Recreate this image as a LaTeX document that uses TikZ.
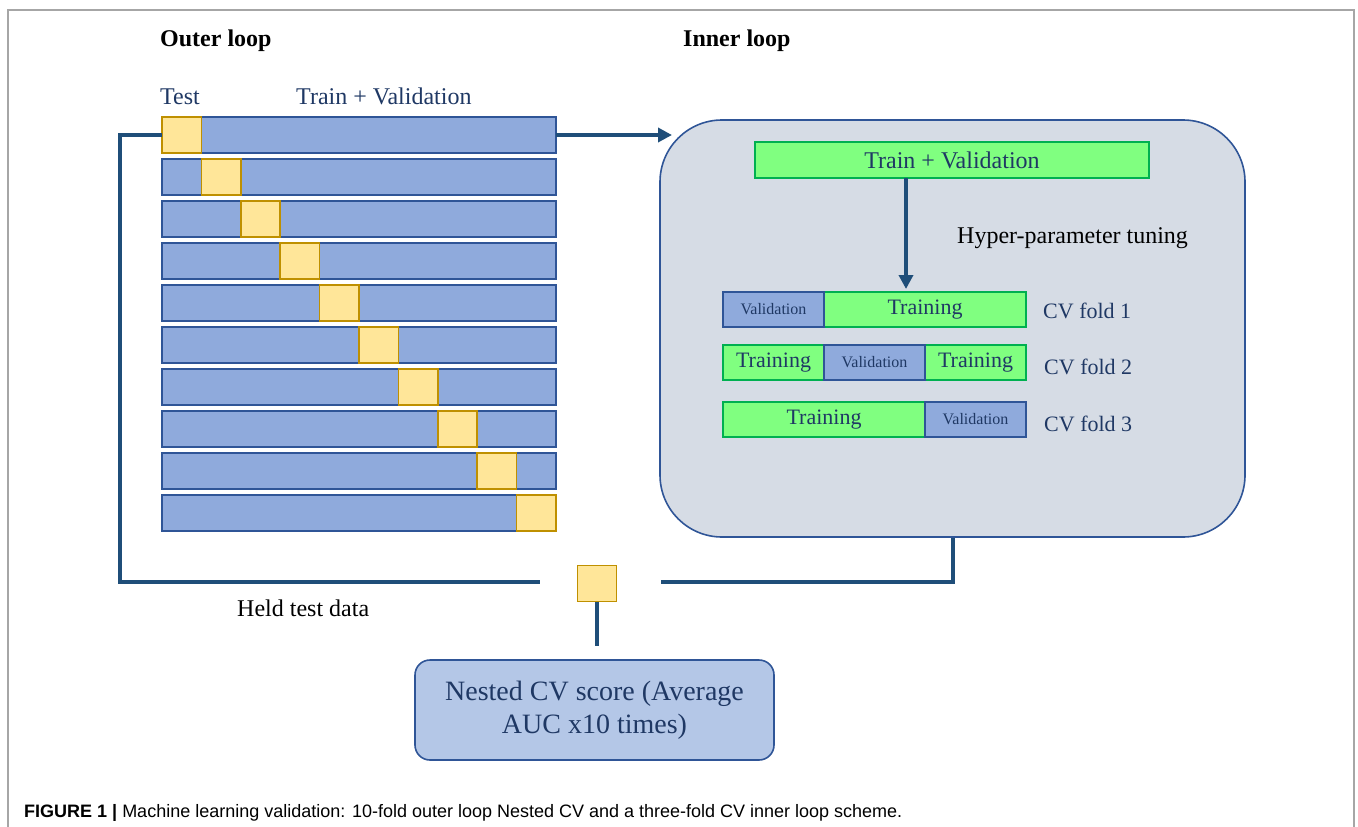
\documentclass[tikz,border=0pt]{standalone}
\usepackage{fontspec}
\setmainfont{Liberation Serif}
\newfontfamily\capfont{Liberation Sans}
\usetikzlibrary{arrows.meta, positioning}
\definecolor{barfill}{RGB}{143,170,220}
\definecolor{barline}{RGB}{47,85,151}
\definecolor{goldfill}{RGB}{255,230,153}
\definecolor{goldline}{RGB}{191,144,0}
\definecolor{grnfill}{RGB}{128,255,128}
\definecolor{grnline}{RGB}{0,176,80}
\definecolor{boxfill}{RGB}{214,220,229}
\definecolor{scorefill}{RGB}{180,199,231}
\definecolor{loopblue}{RGB}{31,78,121}
\definecolor{txtblue}{RGB}{31,56,100}
\tikzset{
  bar/.style={draw=barline, fill=barfill, line width=1.6pt, minimum width=394pt,
              minimum height=36pt, inner sep=0pt, outer sep=0pt},
  tst/.style={draw=goldline, fill=goldfill, line width=1.6pt, minimum width=39.4pt,
              minimum height=36pt, inner sep=0pt, outer sep=0pt},
  trn/.style={draw=grnline, fill=grnfill, line width=1.6pt, minimum height=35pt,
              inner sep=0pt, outer sep=0pt, text=txtblue, font=\fontsize{22}{26}\selectfont},
  vld/.style={draw=barline, fill=barfill, line width=1.6pt, minimum height=35pt,
              minimum width=101pt, inner sep=0pt, outer sep=0pt, text=txtblue,
              font=\fontsize{16}{19}\selectfont},
  hdr/.style={anchor=base west, inner sep=0pt, font=\fontsize{24}{28}\selectfont\bfseries},
  lbl/.style={anchor=base west, inner sep=0pt, font=\fontsize{24}{28}\selectfont},
  fold/.style={anchor=base west, inner sep=0pt, text=txtblue, font=\fontsize{22}{26}\selectfont},
  loopln/.style={draw=loopblue, line width=4pt},
  arr/.style={loopln, -{Triangle[length=14pt, width=14pt]}},
}

\begin{document}
\begin{tikzpicture}[x=1pt, y=-1pt]
\useasboundingbox (0,0) rectangle (1358,827);

% frame of the figure
\draw[gray!70, line width=1.8pt] (8,827) -- (8,10) -- (1354,10) -- (1354,827);

\node[hdr] (outer) at (160,46) {Outer loop};
\node[hdr] (innerlbl) at (683,46) {Inner loop};
\node[lbl, text=txtblue] (testlbl) at (160,104) {Test};
\node[lbl, text=txtblue] (tvlbl) at (296,104) {Train + Validation};

% outer 10 folds
\foreach \i in {0,...,9} {
  \node[bar] (bar\i) at (359,135+42*\i) {};
  \node[tst] (tst\i) at (181.7+39.4*\i,135+42*\i) {};
}

% inner loop
\node[draw=barline, fill=boxfill, line width=1.6pt, rounded corners=62pt,
      minimum width=585pt, minimum height=417pt] (inner) at (952.5,328.5) {};
\node[trn, minimum width=394pt, minimum height=36pt,
      font=\fontsize{24}{28}\selectfont] (tv) at (952,160) {Train + Validation};
\node[lbl] (tuning) at (957,243) {Hyper-parameter tuning};

\node[trn, minimum width=202pt] (t1) at (925,309.5) {Training};
\node[vld, left=0pt of t1] (v1) {Validation};
\node[trn, minimum width=101pt] (t2a) at (773.5,362.5) {Training};
\node[trn, minimum width=101pt] (t2b) at (975.5,362.5) {Training};
\node[vld, right=0pt of t2a] (v2) {Validation};
\node[trn, minimum width=202pt] (t3) at (824,419.5) {Training};
\node[vld, right=0pt of t3] (v3) {Validation};

\node[fold] (cv1) at (1043,318) {CV fold 1};
\node[fold] (cv2) at (1044,374) {CV fold 2};
\node[fold] (cv3) at (1044,431) {CV fold 3};

% held test data and score
\node[tst, minimum width=39pt, minimum height=36pt] (held) at (597,583.5) {};
\node[lbl] (heldlbl) at (237,616) {Held test data};
\node[draw=barline, fill=scorefill, line width=1.6pt, rounded corners=15pt,
      minimum width=359pt, minimum height=100pt, align=center, text=txtblue,
      font=\fontsize{28}{33}\selectfont] (score) at (594.5,710)
  {Nested CV score (Average\\AUC x10 times)};

\coordinate (arrend) at (672,135);
\coordinate (tunein) at (906,289);
\coordinate (backend) at (540,582);
\coordinate (fromin) at (661,582);
\coordinate (stemend) at (597,646);

\draw[arr] (bar0.east) -- (arrend);
\draw[arr] (tv.south -| tunein) -- (tunein);
\draw[loopln] (bar0.west) -- (120,135) |- (backend);
\draw[loopln] (fromin) -| (inner.south);
\draw[loopln] (held.south) -- (stemend);

\node[anchor=base west, inner sep=0pt, font=\capfont\fontsize{18}{22}\selectfont] (caption)
  at (24,817) {\textbf{FIGURE 1 |} Machine learning validation: 10-fold outer loop Nested CV and a three-fold CV inner loop scheme.};

\end{tikzpicture}
\end{document}
